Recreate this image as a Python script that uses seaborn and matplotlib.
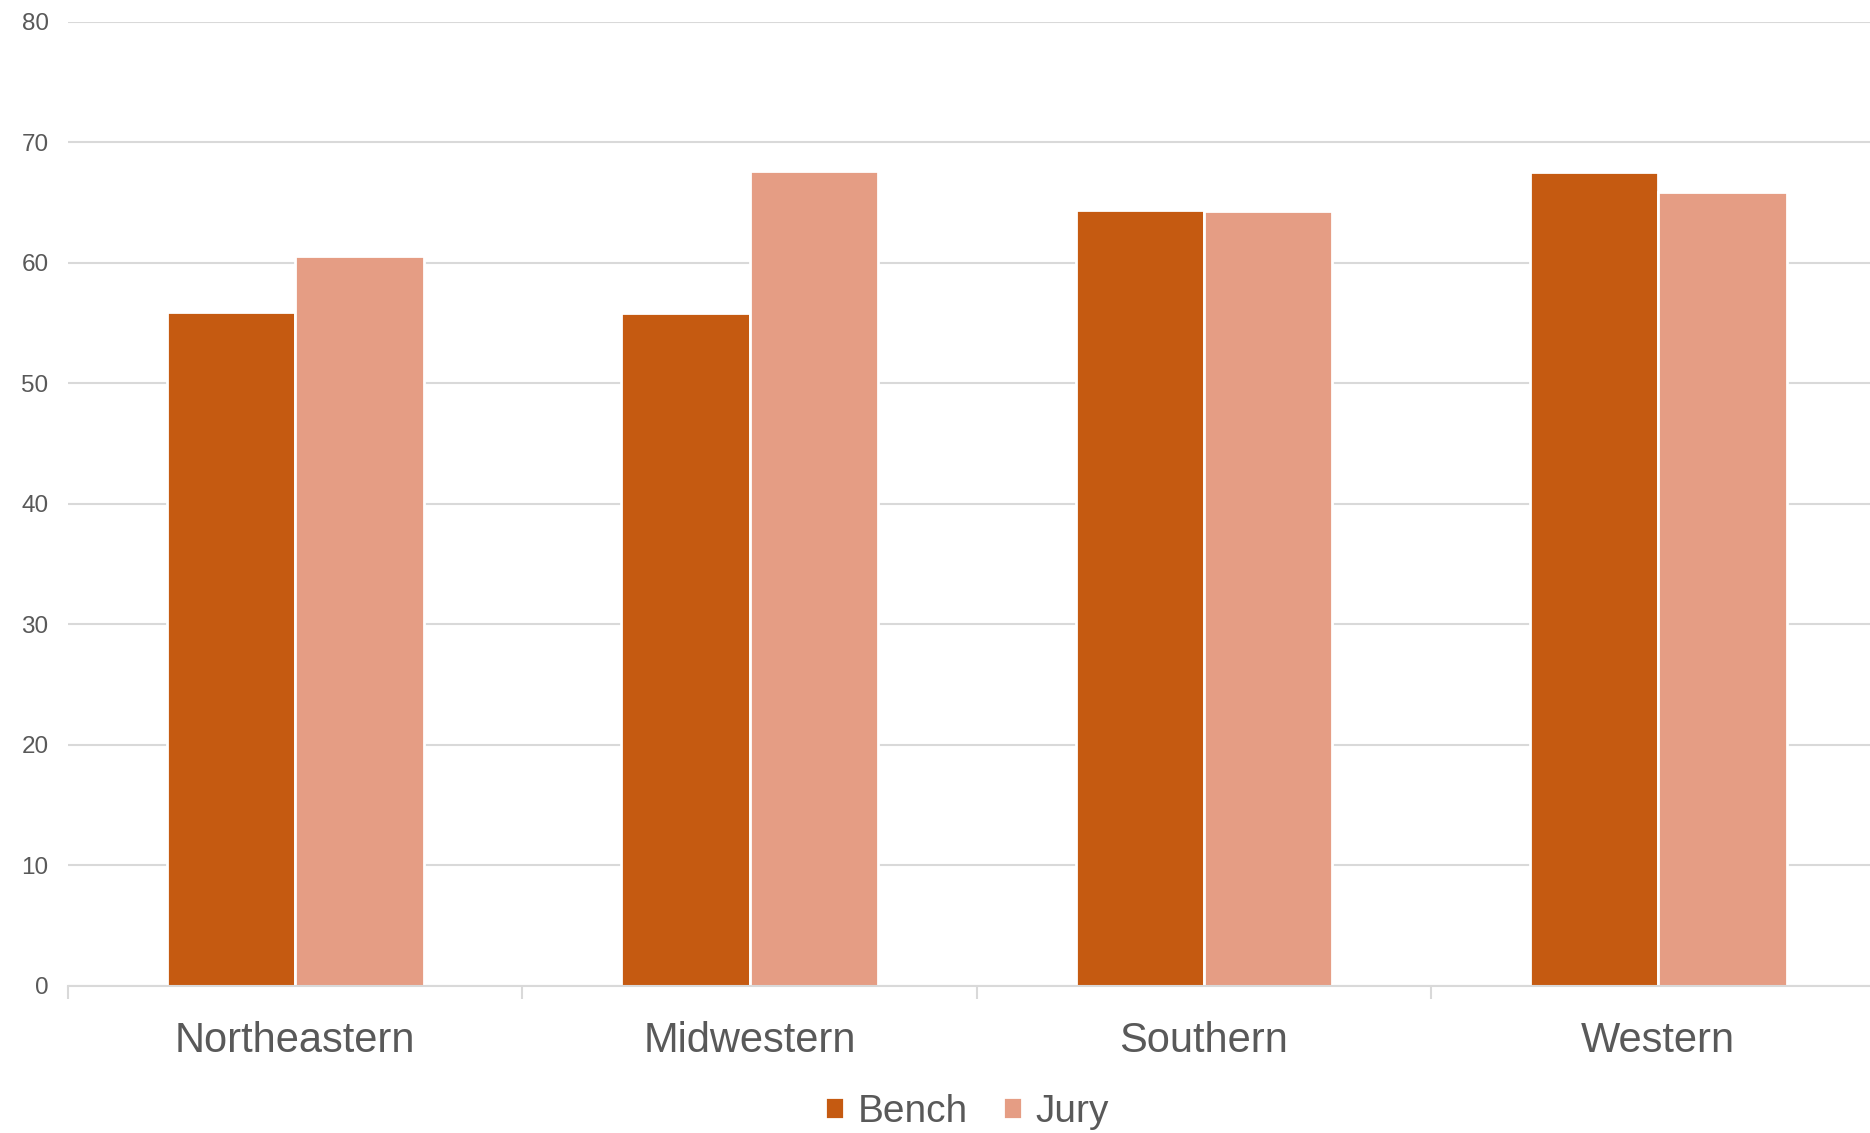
import matplotlib
matplotlib.use("Agg")
import matplotlib.pyplot as plt
import pandas as pd
import seaborn as sns

# Data
regions = ["Northeastern", "Midwestern", "Southern", "Western"]
bench = [55.9, 55.8, 64.4, 67.5]
jury = [60.6, 67.6, 64.3, 65.9]
series = ["Bench", "Jury"]
colors = {"Bench": "#C55A11", "Jury": "#E59D84"}
y_ticks = [0, 10, 20, 30, 40, 50, 60, 70, 80]

df = pd.DataFrame({
    "region": regions * 2,
    "series": ["Bench"] * len(regions) + ["Jury"] * len(regions),
    "value": bench + jury,
})

sns.set_style("white")
plt.rcParams["font.family"] = ["Liberation Sans", "DejaVu Sans"]
text_color = "#595959"
grid_color = "#D9D9D9"

fig = plt.figure(figsize=(18.7, 11.33), dpi=100)
ax = fig.add_axes([68 / 1870, 1 - 986 / 1133, 1 - 68 / 1870, (986 - 21.7) / 1133])

sns.barplot(data=df, x="region", y="value", hue="series", hue_order=series,
            palette=colors, width=0.565, edgecolor="white", linewidth=2,
            saturation=1, ax=ax, zorder=3)

ax.set_ylim(0, 80)
ax.set_xlim(-0.5, 3.466)
ax.set_yticks(y_ticks)
ax.set_xlabel("")
ax.set_ylabel("")

# grid + spines
ax.yaxis.grid(True, color=grid_color, linewidth=1.5, zorder=0)
ax.set_axisbelow(True)
for s in ["top", "right", "left"]:
    ax.spines[s].set_visible(False)
ax.spines["bottom"].set_color(grid_color)
ax.spines["bottom"].set_linewidth(1.5)
ax.spines["bottom"].set_zorder(4)

# tick labels
ax.tick_params(axis="y", length=0, pad=14, labelsize=17.5, labelcolor=text_color)
ax.tick_params(axis="x", which="major", bottom=True, length=0, pad=25,
               labelcolor=text_color)
for lbl in ax.get_xticklabels():
    lbl.set_family(["Liberation Sans Narrow", "Liberation Sans", "DejaVu Sans"])
    lbl.set_fontsize(30)

# category separators
ax.set_xticks([-0.5, 0.5, 1.5, 2.5], minor=True)
ax.tick_params(axis="x", which="minor", bottom=True, length=9.5, width=1.5,
               color=grid_color)

# legend at bottom
handles, labels = ax.get_legend_handles_labels()
ax.get_legend().remove()
leg = fig.legend(handles, labels, loc="center", ncol=2, frameon=False,
                 bbox_to_anchor=(967 / 1870, 1 - 1112 / 1133),
                 fontsize=28, handlelength=0.5, handleheight=0.5,
                 handletextpad=0.35, columnspacing=0.9)
for t in leg.get_texts():
    t.set_color(text_color)

fig.savefig("out.png", dpi=100)
